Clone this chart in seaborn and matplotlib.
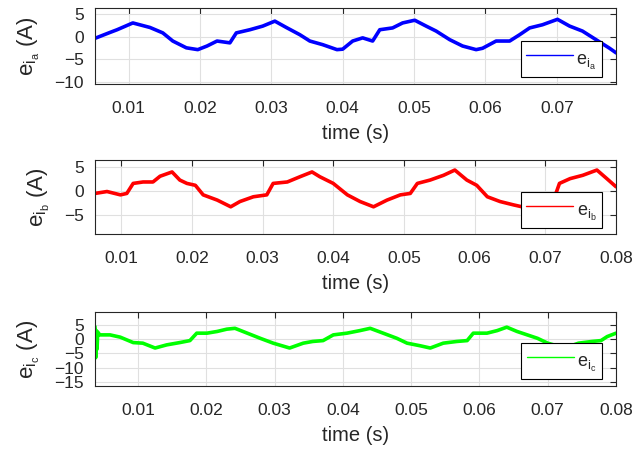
import numpy as np
import pandas as pd
import seaborn as sns
import matplotlib
matplotlib.use('Agg')
import matplotlib.pyplot as plt

# phase a current error (A)
t_a = [0.0040, 0.0053, 0.0074, 0.0084, 0.0106, 0.0130, 0.0148, 0.0162, 0.0181, 0.0197,
       0.0210, 0.0224, 0.0242, 0.0251, 0.0270, 0.0288, 0.0305, 0.0321, 0.0340, 0.0354,
       0.0372, 0.0392, 0.0400, 0.0414, 0.0428, 0.0442, 0.0452, 0.0470, 0.0484, 0.0501,
       0.0517, 0.0531, 0.0550, 0.0568, 0.0587, 0.0596, 0.0615, 0.0634, 0.0648, 0.0662,
       0.0680, 0.0701, 0.0718, 0.0736, 0.0755, 0.0774, 0.0783, 0.0800]
e_a = [-1.0, -0.4, 0.9, 1.5, 3.0, 2.0, 0.8, -1.0, -2.5, -2.9,
       -2.1, -1.0, -1.4, 0.8, 1.5, 2.3, 3.4, 2.0, 0.4, -1.0,
       -1.8, -2.9, -2.8, -1.0, -0.3, -1.0, 1.5, 1.9, 3.0, 3.6,
       2.3, 1.2, -0.7, -2.1, -2.9, -2.6, -1.0, -1.0, 0.4, 1.9,
       2.6, 3.8, 2.3, 1.2, -0.7, -2.6, -3.6, -4.5]

# phase b
t_b = [0.0050, 0.0063, 0.0080, 0.0099, 0.0108, 0.0117, 0.0131, 0.0145, 0.0155, 0.0172,
       0.0183, 0.0193, 0.0205, 0.0216, 0.0236, 0.0255, 0.0268, 0.0287, 0.0306, 0.0315,
       0.0335, 0.0353, 0.0370, 0.0381, 0.0400, 0.0420, 0.0438, 0.0457, 0.0476, 0.0495,
       0.0509, 0.0519, 0.0537, 0.0556, 0.0572, 0.0589, 0.0603, 0.0618, 0.0636, 0.0655,
       0.0667, 0.0685, 0.0705, 0.0715, 0.0720, 0.0735, 0.0753, 0.0773, 0.0787, 0.0800]
e_b = [-0.3, -0.5, -0.1, -0.8, -0.5, 1.6, 1.9, 1.9, 3.1, 4.0,
       2.3, 1.6, 1.2, -0.8, -1.9, -3.3, -2.2, -1.2, -0.8, 1.6,
       1.9, 3.0, 4.0, 3.0, 1.6, -0.8, -2.2, -3.3, -1.9, -0.8,
       -0.5, 1.6, 2.3, 3.3, 4.4, 2.3, 1.2, -1.2, -2.2, -2.9,
       -3.3, -2.0, -0.8, -0.5, 1.6, 2.6, 3.3, 4.4, 2.6, 0.9]

# phase c (with start-up transient)
t_c = [0.0037, 0.0038, 0.0039, 0.0040, 0.0041, 0.0044, 0.0059, 0.0074, 0.0093, 0.0107,
       0.0125, 0.0142, 0.0161, 0.0176, 0.0186, 0.0201, 0.0216, 0.0230, 0.0242, 0.0260,
       0.0279, 0.0298, 0.0322, 0.0342, 0.0356, 0.0371, 0.0386, 0.0406, 0.0425, 0.0440,
       0.0459, 0.0479, 0.0494, 0.0513, 0.0528, 0.0547, 0.0567, 0.0582, 0.0591, 0.0611,
       0.0626, 0.0640, 0.0655, 0.0670, 0.0685, 0.0700, 0.0725, 0.0745, 0.0765, 0.0778,
       0.0787, 0.0800]
e_c = [4.4, -6.5, 3.0, -3.5, 2.5, 1.5, 1.5, 0.7, -1.2, -1.4,
       -3.1, -2.0, -1.2, -0.5, 2.1, 2.1, 2.7, 3.5, 3.8, 2.1,
       0.3, -1.4, -3.1, -1.4, -0.8, -0.5, 1.5, 2.1, 3.0, 3.8,
       2.1, 0.3, -1.4, -2.3, -3.1, -1.4, -0.8, -0.5, 2.1, 2.1,
       3.0, 4.2, 2.7, 1.5, 0.3, -1.4, -3.1, -1.4, -0.8, -0.5,
       0.9, 2.1]

x_ticks = [0.01, 0.02, 0.03, 0.04, 0.05, 0.06, 0.07, 0.08]
x_tick_labels = ['0.01', '0.02', '0.03', '0.04', '0.05', '0.06', '0.07', '0.08']

sns.set_style("white")
plt.rcParams['font.family'] = ['Liberation Sans', 'DejaVu Sans']
plt.rcParams['mathtext.fontset'] = 'custom'
plt.rcParams['mathtext.rm'] = 'Liberation Sans'
plt.rcParams['mathtext.it'] = 'Liberation Sans'
plt.rcParams['mathtext.default'] = 'regular'

dark = '#262626'

panels = [
    dict(t=t_a, e=e_a, color='#0000ff', sub='a', rect=[0.1496, 0.8133, 0.8205, 0.1689],
         xlim=(0.0053, 0.0783), ylim=(-10.5, 6.3), yticks=[-10, -5, 0, 5], leg_y=0.09),
    dict(t=t_b, e=e_b, color='#ff0000', sub='b', rect=[0.1496, 0.4800, 0.8205, 0.1644],
         xlim=(0.0063, 0.0800), ylim=(-9.0, 6.5), yticks=[-5, 0, 5], leg_y=0.08),
    dict(t=t_c, e=e_c, color='#00ff00', sub='c', rect=[0.1496, 0.1422, 0.8205, 0.1644],
         xlim=(0.0037, 0.0800), ylim=(-16.4, 9.5), yticks=[-15, -10, -5, 0, 5], leg_y=0.095),
]

fig = plt.figure(figsize=(6.35, 4.5), dpi=100)

for p in panels:
    ax = fig.add_axes(p['rect'])
    df = pd.DataFrame({'t': p['t'], 'e': p['e']})
    label = r'$e_{i_%s}$' % p['sub']
    sns.lineplot(data=df, x='t', y='e', ax=ax, color=p['color'], lw=2.6,
                 estimator=None, sort=False, label=label)
    ax.set_xticks(x_ticks)
    ax.set_xticklabels(x_tick_labels)
    ax.set_yticks(p['yticks'])
    ax.set_xlim(*p['xlim'])
    ax.set_ylim(*p['ylim'])
    ax.grid(True, color='#e0e0e0', lw=0.8)
    ax.set_axisbelow(True)
    for s in ax.spines.values():
        s.set_color(dark)
        s.set_linewidth(0.8)
        s.set_visible(True)
    ax.tick_params(direction='in', length=4, width=0.8, top=True, right=True,
                   colors=dark, labelsize=12.5)
    ax.tick_params(axis='x', pad=12)
    ax.tick_params(axis='y', pad=8)
    ax.set_xlabel('time (s)', fontsize=14.5, color=dark, labelpad=6)
    ax.set_ylabel(label + ' (A)', fontsize=16, color=dark, labelpad=9)
    leg = ax.legend(loc='lower right', bbox_to_anchor=(0.973, p['leg_y']),
                    fontsize=13, frameon=True, fancybox=False, framealpha=1,
                    edgecolor='black', handlelength=2.6, handletextpad=0.2,
                    handleheight=1.75, borderpad=0.3, borderaxespad=0)
    leg.get_frame().set_linewidth(0.8)
    for ln in leg.get_lines():
        ln.set_linewidth(1.0)

plt.savefig('out.png', dpi=100)
